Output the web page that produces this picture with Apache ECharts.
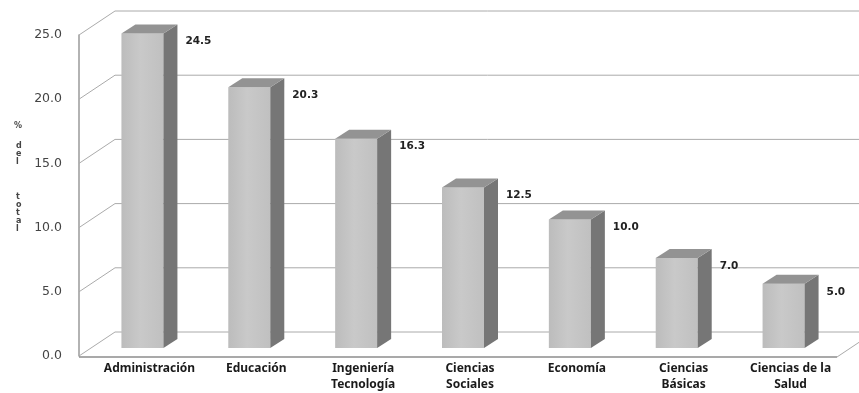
<!DOCTYPE html>
<html>
<head>
<meta charset="utf-8">
<script src="https://cdn.jsdelivr.net/npm/echarts@6/dist/echarts.min.js"></script>
<style>
  html, body { margin: 0; padding: 0; background: #fff; }
  #chart { width: 859px; height: 393px; }
</style>
</head>
<body>
<div id="chart"></div>
<script>
// datos
const categories = ['Administración', 'Educación', 'Ingeniería\nTecnología', 'Ciencias\nSociales', 'Economía', 'Ciencias\nBásicas', 'Ciencias de la\nSalud'];
const values = [24.5, 20.3, 16.3, 12.5, 10.0, 7.0, 5.0];
const yTicks = [0, 5, 10, 15, 20, 25];

// efecto 3D (pixeles)
const WALL_DX = 36, WALL_DY = -24;   // profundidad de las paredes
const BAR_DX = 14, BAR_DY = -9;      // profundidad de cada barra
const BAR_SHIFT = -8;                // la barra esta un poco detras del plano frontal
const AXIS_OFFSET = 17;

const chart = echarts.init(document.getElementById('chart'));

// paredes: linea de fondo + diagonal de la pared izquierda por cada tick
function renderWall(params, api) {
  const cs = params.coordSys;
  const v = api.value(0);
  const y = api.coord([0, v])[1];
  const xl = cs.x - AXIS_OFFSET;
  const xr = cs.x + cs.width + 40;
  const lineStyle = { stroke: '#aaaaaa', lineWidth: 1 };
  const children = [
    { type: 'line', shape: { x1: xl + WALL_DX, y1: y + WALL_DY, x2: xr, y2: y + WALL_DY }, style: lineStyle },
    { type: 'line', shape: { x1: xl, y1: y, x2: xl + WALL_DX, y2: y + WALL_DY }, style: lineStyle }
  ];
  if (v === 0) {
    const fr = cs.x + cs.width - 7;
    const floorStyle = { stroke: '#8c8c8c', lineWidth: 1.5 };
    children.push(
      { type: 'line', shape: { x1: xl, y1: y + 1, x2: fr, y2: y + 1 }, style: floorStyle },
      { type: 'line', shape: { x1: fr, y1: y + 1, x2: fr + WALL_DX, y2: y + 1 + WALL_DY }, style: lineStyle }
    );
  }
  return { type: 'group', children: children };
}

function renderBar(params, api) {
  const cat = api.value(0);
  const v = api.value(1);
  const top = api.coord([cat, v]);
  const base = api.coord([cat, 0]);
  const cx = top[0];
  const faceL = cx - 28, faceR = cx + 14;
  const yt = top[1] + BAR_SHIFT, yb = base[1] + BAR_SHIFT;
  return {
    type: 'group',
    children: [
      {
        type: 'rect',
        shape: { x: faceL, y: yt, width: faceR - faceL, height: yb - yt },
        style: {
          fill: new echarts.graphic.LinearGradient(0, 0, 1, 0, [
            { offset: 0, color: '#bcbcbc' },
            { offset: 0.45, color: '#c9c9c9' },
            { offset: 1, color: '#c0c0c0' }
          ])
        }
      },
      {
        type: 'polygon',
        shape: { points: [[faceR, yt], [faceR + BAR_DX, yt + BAR_DY], [faceR + BAR_DX, yb + BAR_DY], [faceR, yb]] },
        style: { fill: '#767676' }
      },
      {
        type: 'polygon',
        shape: { points: [[faceL, yt], [faceL + BAR_DX, yt + BAR_DY], [faceR + BAR_DX, yt + BAR_DY], [faceR, yt]] },
        style: { fill: '#939393' }
      },
      {
        type: 'text',
        style: {
          x: faceR + BAR_DX + 8, y: top[1],
          text: v.toFixed(1),
          fill: '#222',
          font: 'bold 10.5px "DejaVu Sans"',
          verticalAlign: 'middle', align: 'left'
        }
      }
    ]
  };
}

const nameFont = 'bold 8px "DejaVu Sans"';

const option = {
  animation: false,
  grid: { left: 96, right: 15, top: 35, bottom: 33 },
  xAxis: {
    type: 'category',
    data: categories,
    axisLine: { show: false },
    axisTick: { show: false },
    axisLabel: {
      interval: 0,
      margin: 5,
      color: '#1a1a1a',
      fontFamily: 'Noto Sans',
      fontWeight: 'bold',
      fontSize: 12,
      lineHeight: 16
    }
  },
  yAxis: {
    type: 'value',
    min: 0, max: 25, interval: 5,
    offset: AXIS_OFFSET,
    axisLine: { show: true, lineStyle: { color: '#9a9a9a', width: 1.5 } },
    axisTick: { show: false },
    splitLine: { show: false },
    axisLabel: {
      margin: 17,
      color: '#444',
      fontFamily: 'DejaVu Sans',
      fontSize: 12.5,
      formatter: v => v.toFixed(1)
    }
  },
  graphic: [
    { type: 'text', left: 14, top: 122, style: { text: '%', fill: '#444', font: nameFont } },
    { type: 'text', left: 16, top: 142, style: { text: 'd\ne\nl', fill: '#444', font: nameFont, lineHeight: 8 } },
    { type: 'text', left: 16, top: 193, style: { text: 't\no\nt\na\nl', fill: '#444', font: nameFont, lineHeight: 8 } }
  ],
  series: [
    {
      type: 'custom',
      renderItem: renderWall,
      data: yTicks.map(v => [v]),
      encode: { y: 0 },
      silent: true,
      z: 1
    },
    {
      type: 'custom',
      renderItem: renderBar,
      data: values.map((v, i) => [i, v]),
      encode: { x: 0, y: 1 },
      z: 3
    }
  ]
};

chart.setOption(option);
</script>
</body>
</html>
